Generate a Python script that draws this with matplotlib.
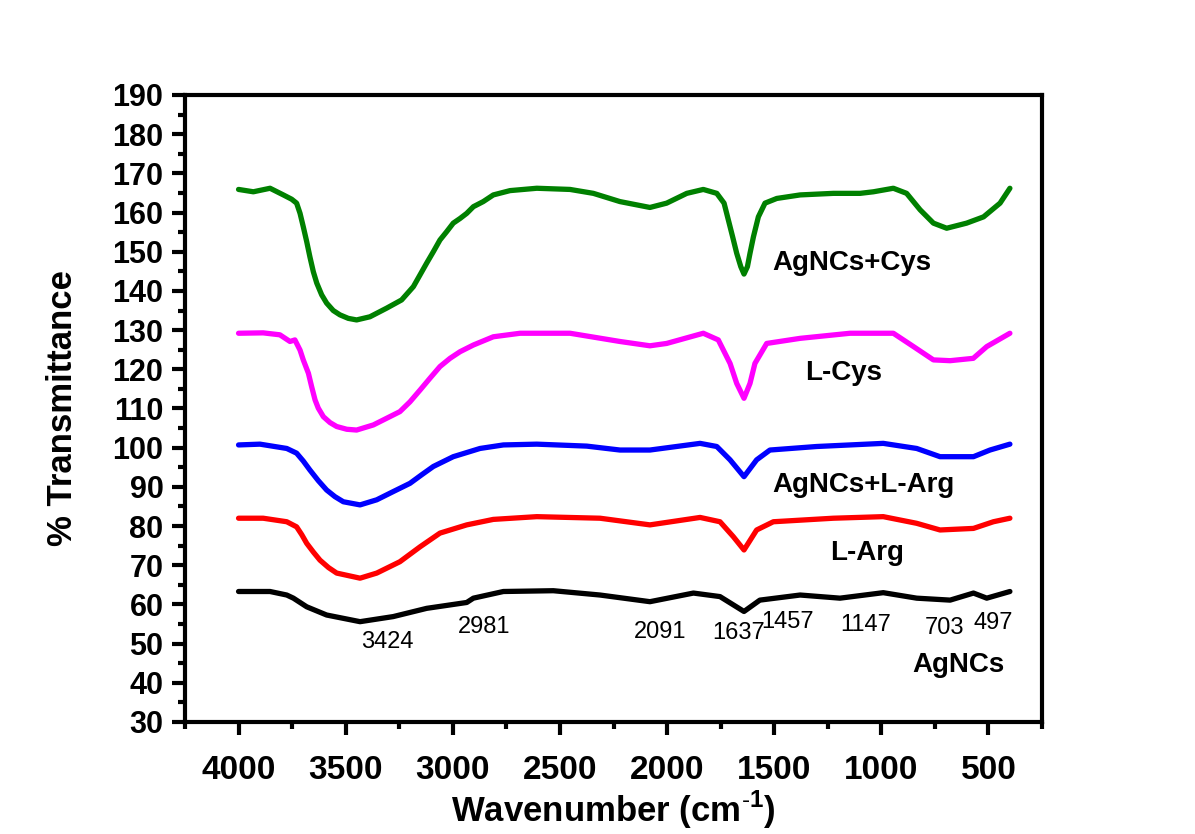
import matplotlib.pyplot as plt
from matplotlib.ticker import MultipleLocator

plt.rcParams['font.family'] = ['Liberation Sans', 'DejaVu Sans']
plt.rcParams['mathtext.fontset'] = 'custom'
plt.rcParams['mathtext.rm'] = 'Liberation Sans'
plt.rcParams['mathtext.bf'] = 'Liberation Sans:bold'

# FTIR spectra (wavenumber in cm-1, % transmittance)
wn_cys_ag = [4000, 3931, 3853, 3791, 3752, 3729, 3713, 3698, 3682, 3667, 3651, 3635, 3612,
             3589, 3558, 3527, 3488, 3449, 3387, 3309, 3239, 3184, 3153, 3122, 3091, 3060,
             3029, 2998, 2966, 2935, 2904, 2858, 2811, 2733, 2608, 2453, 2344, 2220, 2080,
             2002, 1908, 1831, 1768, 1734, 1714, 1694, 1675, 1656, 1641, 1625, 1613, 1597,
             1574, 1543, 1488, 1379, 1224, 1099, 1037, 944, 882, 819, 757, 695, 602, 523,
             446, 400]
t_cys_ag = [165.9, 165.3, 166.2, 164.5, 163.4, 162.4, 159.8, 156.4, 152.6, 148.7, 144.9,
            142.0, 139.0, 136.9, 135.0, 133.9, 133.0, 132.6, 133.4, 135.6, 137.7, 141.1,
            144.1, 147.1, 150.0, 153.0, 155.1, 157.3, 158.5, 159.8, 161.5, 162.8, 164.5,
            165.6, 166.2, 165.9, 164.9, 162.8, 161.3, 162.4, 164.9, 165.9, 164.9, 162.4,
            158.1, 153.8, 149.6, 146.2, 144.3, 146.2, 149.6, 153.8, 158.9, 162.4, 163.6,
            164.5, 164.9, 164.9, 165.3, 166.2, 164.9, 160.7, 157.3, 156.0, 157.3, 158.9,
            162.4, 166.2]

wn_cys = [4000, 3885, 3807, 3760, 3737, 3713, 3698, 3674, 3659, 3643, 3628, 3604, 3573,
          3542, 3495, 3449, 3371, 3247, 3200, 3153, 3107, 3060, 3013, 2966, 2904, 2811,
          2686, 2453, 2220, 2080, 2002, 1831, 1761, 1706, 1675, 1641, 1613, 1590, 1535,
          1379, 1146, 944, 850, 757, 679, 571, 508, 400]
t_cys = [129.2, 129.3, 128.8, 127.1, 127.5, 124.9, 122.4, 119.0, 115.6, 112.2, 110.1,
         107.9, 106.4, 105.4, 104.7, 104.5, 105.8, 109.2, 111.7, 114.7, 117.7, 120.7,
         122.8, 124.5, 126.2, 128.3, 129.2, 129.2, 127.1, 126.0, 126.6, 129.2, 127.5,
         121.5, 116.4, 112.6, 116.4, 121.5, 126.6, 127.9, 129.2, 129.2, 125.8, 122.4,
         122.2, 122.8, 125.8, 129.2]

wn_arg_ag = [4000, 3900, 3775, 3729, 3698, 3667, 3628, 3589, 3550, 3511, 3433, 3355, 3278,
             3200, 3145, 3091, 2998, 2873, 2764, 2608, 2375, 2220, 2080, 1846, 1768, 1706,
             1641, 1582, 1520, 1302, 991, 835, 726, 570, 493, 400]
t_arg_ag = [100.7, 100.9, 99.8, 98.6, 96.6, 94.3, 91.6, 89.2, 87.5, 86.2, 85.4, 86.7, 88.8,
            90.9, 93.1, 95.2, 97.7, 99.8, 100.7, 100.9, 100.4, 99.4, 99.4, 101.1, 100.3,
            96.9, 92.6, 96.9, 99.4, 100.3, 101.1, 99.8, 97.7, 97.7, 99.4, 100.9]

wn_arg = [4000, 3885, 3775, 3729, 3705, 3682, 3650, 3620, 3580, 3542, 3433, 3355, 3247,
          3153, 3060, 2935, 2811, 2608, 2313, 2080, 1846, 1753, 1691, 1641, 1582, 1504,
          1224, 991, 835, 726, 570, 477, 400]
t_arg = [82.0, 82.0, 81.1, 79.8, 77.8, 75.6, 73.3, 71.3, 69.4, 68.0, 66.7, 68.0, 70.9,
         74.7, 78.2, 80.3, 81.7, 82.4, 82.0, 80.3, 82.2, 81.1, 77.3, 73.9, 79.0, 81.1,
         82.0, 82.4, 80.7, 79.0, 79.4, 81.1, 82.0]

wn_ag = [4000, 3853, 3775, 3744, 3682, 3589, 3433, 3278, 3122, 2935, 2904, 2764, 2531,
         2313, 2080, 1877, 1753, 1641, 1567, 1379, 1193, 991, 835, 679, 570, 508, 400]
t_ag = [63.3, 63.3, 62.4, 61.6, 59.4, 57.3, 55.6, 56.9, 59.0, 60.5, 61.6, 63.3, 63.5,
        62.4, 60.7, 62.9, 62.0, 58.2, 61.1, 62.4, 61.6, 63.0, 61.6, 61.1, 62.9, 61.6, 63.3]

series_names = ['AgNCs+Cys', 'L-Cys', 'AgNCs+L-Arg', 'L-Arg', 'AgNCs']
peak_labels = ['3424', '2981', '2091', '1637', '1457', '1147', '703', '497']

curves = [(wn_cys_ag, t_cys_ag, '#008000'),
          (wn_cys, t_cys, '#FF00FF'),
          (wn_arg_ag, t_arg_ag, '#0000FF'),
          (wn_arg, t_arg, '#FF0000'),
          (wn_ag, t_ag, 'black')]

fig = plt.figure(figsize=(11.95, 8.34), dpi=100)
ax = fig.add_axes([0.1548, 0.1343, 0.7172, 0.7518])

for wn, t, col in curves:
    ax.plot(wn, t, color=col, lw=3.8, solid_joinstyle='round', solid_capstyle='round')

ax.set_xlim(4250, 250)
ax.set_ylim(30, 190)
ax.xaxis.set_major_locator(MultipleLocator(500))
ax.xaxis.set_minor_locator(MultipleLocator(250))
ax.yaxis.set_major_locator(MultipleLocator(10))
ax.yaxis.set_minor_locator(MultipleLocator(5))
ax.set_xticks(range(500, 4001, 500))

for s in ax.spines.values():
    s.set_linewidth(3)
ax.tick_params(which='major', direction='out', length=9.5, width=3, pad=6)
ax.tick_params(which='minor', direction='out', length=5, width=3)
ax.tick_params(axis='y', labelsize=22)
ax.tick_params(axis='x', labelsize=24, pad=14)
for lab in ax.get_xticklabels() + ax.get_yticklabels():
    lab.set_fontweight('bold')

ax.set_ylabel('% Transmittance', fontsize=25, fontweight='bold', labelpad=24)
ax.set_xlabel(r'Wavenumber (cm$^{\mathbf{\text{-}1}}$)', fontsize=25, fontweight='bold',
              labelpad=2)

# curve names
name_pos = [(1510, 147.1), (1356, 119.1), (1510, 90.5), (1240, 73.1), (857, 44.6)]
for name, (x, y) in zip(series_names, name_pos):
    ax.text(x, y, name, fontsize=20, fontweight='bold', ha='left', va='center')

# peak positions
peak_pos = [(3307, 50.4), (2854, 54.3), (2033, 53.0), (1664, 52.7), (1436, 55.5),
            (1071, 54.7), (707, 54.0), (479, 55.3)]
for lab, (x, y) in zip(peak_labels, peak_pos):
    ax.text(x, y, lab, fontsize=17, ha='center', va='center')

fig.savefig('out.png', dpi=100)
